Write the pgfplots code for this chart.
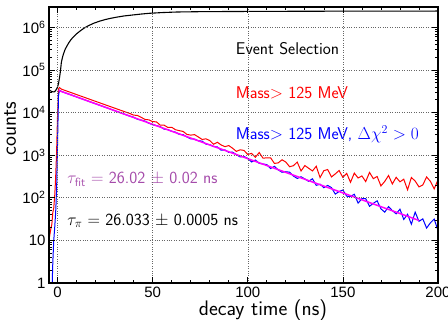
\documentclass[border=0pt]{standalone}
\usepackage{fontspec}
\setmainfont{Liberation Sans}
\usepackage{pgfplots}
\pgfplotsset{compat=1.18}
\usepackage{pgfplotstable}

\definecolor{rred}{RGB}{255,0,0}
\definecolor{rblue}{RGB}{0,0,255}
\definecolor{rmag}{RGB}{255,0,255}
\definecolor{rpurp}{RGB}{165,75,170}

\pgfplotstableread{
t c
-5 35000
-4 33000
-3 31000
-2 30500
-1.5 31000
-1 33000
-0.5 36000
0 40000
0.5 48000
1 65000
1.5 93000
2 150000
2.5 190000
3 230000
4 305000
5 370000
6 440000
7 510000
8 575000
10 705000
12 830000
14 960000
16 1080000
19 1245000
22 1390000
25 1520000
28 1630000
31 1730000
35 1850000
40 1960000
44 2050000
48 2130000
55 2220000
63 2290000
75 2330000
90 2350000
110 2370000
140 2390000
170 2400000
200 2410000
}\blacktab

\pgfplotstableread{
t n
-5 15
-4.5 22
-4 14
-3.5 19
-3 24
-2.5 45
-2 58
-1.5 110
-1 300
-0.5 1200
0 9000
0.5 36000
1 38500
2 35485
4 32964
6 30623
8 28449
10 26429
12 24555
14 22815
16 21200
18 19699
20 18304
22 17011
24 15810
26 14694
28 13659
30 12696
32 11804
34 10975
36 10205
38 9490
40 8709
42 8527
44 7702
46 6895
48 6734
50 6115
52 6049
54 5040
56 5055
58 4473
60 4506
62 3953
64 3758
66 3608
68 3069
70 2953
72 3034
74 2672
76 2335
78 2417
80 2204
82 1805
84 2008
86 1736
88 1584
90 1679
92 1455
94 1227
96 1336
98 1292
100 1039
102 1100
104 893
106 1152
108 851
110 864
112 867
114 640
116 659
118 779
120 689
122 535
124 566
126 688
128 425
130 570
132 493
134 426
136 549
138 298
140 433
142 460
144 308
146 363
148 436
150 300
152 375
154 231
156 379
158 291
160 325
162 240
164 394
166 281
168 316
170 190
172 242
174 333
176 211
178 302
180 237
182 272
184 154
186 299
188 247
190 180
192 199
194 308
196 243
198 162
200 265
}\redtab

\pgfplotstableread{
t n
-5 0.5
-3 0.5
-2.5 3
-2 10
-1.5 20
-1 45
-0.5 150
0 2000
0.5 25000
1 33500
2 31320
4 29082
6 27004
8 25075
10 23282
12 21619
14 20074
16 18640
18 17308
20 16070
22 14922
24 13856
26 12866
28 11946
30 11092
32 10300
34 9564
36 8880
38 8246
40 7761
42 6958
44 6638
46 6306
48 5624
50 5176
52 4928
54 4668
56 4075
58 3976
60 3630
62 3466
64 3078
66 3025
68 2681
70 2413
72 2389
74 2171
76 2137
78 1814
80 1763
82 1596
84 1556
86 1307
88 1324
90 1164
92 1174
94 1029
96 909
98 932
100 841
102 694
104 770
106 644
108 620
110 600
112 486
114 546
116 452
118 397
120 409
122 398
124 323
126 284
128 311
130 277
132 243
134 279
136 196
138 208
140 172
142 195
144 173
146 122
148 140
150 152
152 109
154 107
156 121
158 75
160 95
162 95
164 63
166 74
168 85
170 55
172 46
174 62
176 50
178 42
180 54
182 31
184 41
186 24
188 46
190 28
192 32
194 19.5
196 25.8
198 31.7
200 17
}\bluetab

\pgfplotstableread{
t n
0.5 33110
10 23282
20 16070
30 11092
40 7656
50 5285
60 3648
70 2518
80 1738
90 1200
100 828
110 571
120 394
130 272
140 188
150 130
160 89.6
170 61.8
180 42.7
190 29.4
}\fittab

\begin{document}
\begin{tikzpicture}
\useasboundingbox (-49pt,-37pt) rectangle (399pt,283pt);
\begin{axis}[
  scale only axis, width=389pt, height=276pt,
  at={(0,0)}, anchor=south west,
  ymode=log, xmin=-4.5, xmax=200, ymin=1, ymax=3e6,
  xtick={0,50,100,150,200}, minor x tick num=4,
  ytick={1,10,100,1000,10000,100000,1000000},
  yticklabels={1,10,10\textsuperscript{2},10\textsuperscript{3},10\textsuperscript{4},10\textsuperscript{5},10\textsuperscript{6}},
  grid=major,
  major grid style={dotted, black!60, line width=0.55pt},
  tick style={black, line width=0.7pt},
  major tick length=6pt, minor tick length=3pt,
  axis line style={line width=1.3pt},
  /pgf/number format/assume math mode=true,
  ticklabel style={font=\fontsize{15}{17}\selectfont},
  xlabel={decay time (ns)}, ylabel={counts},
  label style={font=\sffamily\fontsize{21}{23}\selectfont},
  xlabel style={at={(axis description cs:0.55,-0.097)}, anchor=center},
  ylabel style={at={(axis description cs:-0.1,0.56)}, anchor=center},
  axis on top,
]
\addplot[black, line width=1.1pt] table[x=t, y=c] {\blacktab};
\addplot[rred, line width=1.0pt] table[x=t, y=n] {\redtab};
\addplot[rblue, line width=1.0pt] table[x=t, y=n] {\bluetab};
\addplot[rmag, line width=1.5pt] table[x=t, y=n] {\fittab};

\node[anchor=west, inner sep=0pt, font=\sffamily\fontsize{17}{19}\selectfont] at (axis cs:93.7,3.2e5) {Event Selection};
\node[anchor=west, inner sep=0pt, text=rred, font=\sffamily\fontsize{17}{19}\selectfont] at (axis cs:93.7,2.9e4) {Mass$>$ 125 MeV};
\node[anchor=west, inner sep=0pt, text=rblue, font=\sffamily\fontsize{17}{19}\selectfont] at (axis cs:93.7,3040) {Mass$>$ 125 MeV, $\Delta\chi^{2} > 0$};
\node[anchor=west, inner sep=0pt, text=rpurp, font=\sffamily\fontsize{17}{19}\selectfont] at (axis cs:5.1,273) {$\tau_{\mathsf{fit}}$ $=$ 26.02 $\pm$ 0.02 ns};
\node[anchor=west, inner sep=0pt, font=\sffamily\fontsize{17}{19}\selectfont] at (axis cs:5.1,28.8) {$\tau_{\pi}$ $=$ 26.033 $\pm$ 0.0005 ns};
\end{axis}
\end{tikzpicture}
\end{document}
